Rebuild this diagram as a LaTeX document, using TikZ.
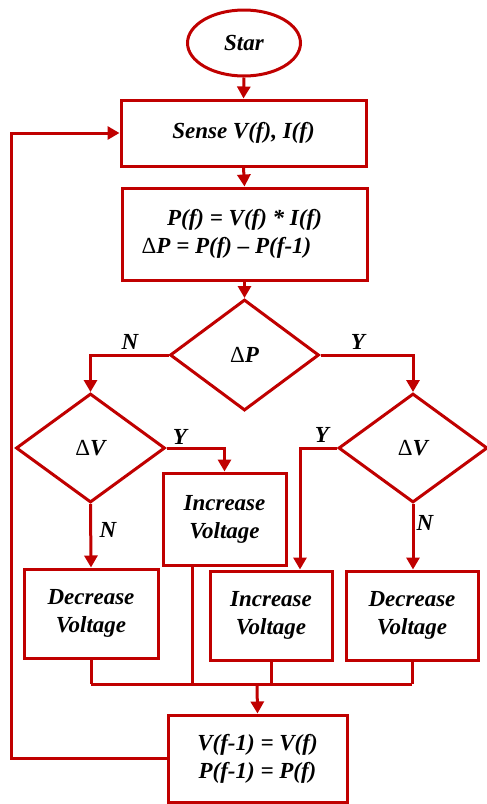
\documentclass[tikz,border=0pt]{standalone}
\usepackage{fontspec}
\setmainfont{Liberation Serif}
\usetikzlibrary{shapes.geometric,arrows.meta,calc}
\definecolor{fred}{HTML}{C00000}
\tikzset{
  every node/.style={font=\fontsize{23}{28}\selectfont\bfseries\itshape},
  box/.style={draw=fred,line width=3pt,rectangle,inner sep=0pt,align=center},
  term/.style={draw=fred,line width=3pt,ellipse,inner sep=0pt},
  decis/.style={draw=fred,line width=3pt,diamond,inner sep=0pt},
  conn/.style={draw=fred,line width=3pt},
  arr/.style={conn,-{Triangle[width=13pt,length=12pt]}},
  lbl/.style={inner sep=0pt}
}
\newcommand{\updelta}{{\normalfont\upshape\mdseries\symbol{"0394}}}
\begin{document}
\begin{tikzpicture}[x=1pt,y=-1pt]
\useasboundingbox (0,0) rectangle (487,804);
\fill[white] (0,0) rectangle (487,804);
\node[term,minimum width=113pt,minimum height=66pt] (start) at (244,43) {Star};
\node[box,minimum width=245pt,minimum height=66pt] (sense) at (243.5,133) {Sense V(f), I(f)};
\node[box,minimum width=245pt,minimum height=92pt] (calc) at (244.5,234)
  {P(f) = V(f) * I(f)\\ \updelta P = P(f) -- P(f-1)\hspace*{36pt}};
\node[decis,minimum width=149pt,minimum height=111pt] (dp) at (244.5,355) {\updelta P};
\node[decis,minimum width=149pt,minimum height=109pt] (dvl) at (90.5,448) {\updelta V};
\node[decis,minimum width=149pt,minimum height=109pt] (dvr) at (413,448) {\updelta V};
\node[box,minimum width=123pt,minimum height=92pt] (inc1) at (224.5,519) {Increase\\Voltage};
\node[box,minimum width=134pt,minimum height=89pt] (dec1) at (91,613.5) {Decrease\\Voltage};
\node[box,minimum width=122pt,minimum height=89pt] (inc2) at (271,615.5) {Increase\\Voltage};
\node[box,minimum width=132pt,minimum height=89pt] (dec2) at (412,615.5) {Decrease\\Voltage};
\node[box,minimum width=179pt,minimum height=87pt] (upd) at (257.5,758.5) {V(f-1) = V(f)\\P(f-1) = P(f)};
\coordinate (m) at (257,684);
\coordinate (fb) at (11,0);
% labels
\node[lbl] (ln1) at (130,342) {N};
\node[lbl] (ly1) at (358,342) {Y};
\node[lbl] (ly2) at (180,437) {Y};
\node[lbl] (ly3) at (322,435) {Y};
\node[lbl] (ln2) at (108,530) {N};
\node[lbl] (ln3) at (425,523) {N};
% connectors
\draw[arr] (start.south) -- (sense.north);
\draw[arr] (sense.south) -- (calc.north);
\draw[arr] (calc.south) -- (dp.north);
\draw[arr] (dp.west) -| (dvl.north);
\draw[arr] (dp.east) -| (dvr.north);
\draw[arr] (dvl.east) -| (inc1.north);
\draw[arr] (dvl.south) -- (dec1.north);
\draw[arr] (dvr.west) -| ([xshift=29pt]inc2.north);
\draw[arr] (dvr.south) -- (dvr.south |- dec2.north);
\draw[conn] (dec1.south) -- (dec1.south |- m);
\draw[conn] ([xshift=-32.5pt]inc1.south) -- ([xshift=-32.5pt]inc1.south |- m);
\draw[conn] (inc2.south) -- (inc2.south |- m);
\draw[conn] (dec2.south) -- (dec2.south |- m);
\draw[conn] (dec1.south |- m) -- (dec2.south |- m);
\draw[arr] (m) -- (upd.north);
\draw[arr] (upd.west) -- (upd.west -| fb) |- (sense.west);
\end{tikzpicture}
\end{document}
